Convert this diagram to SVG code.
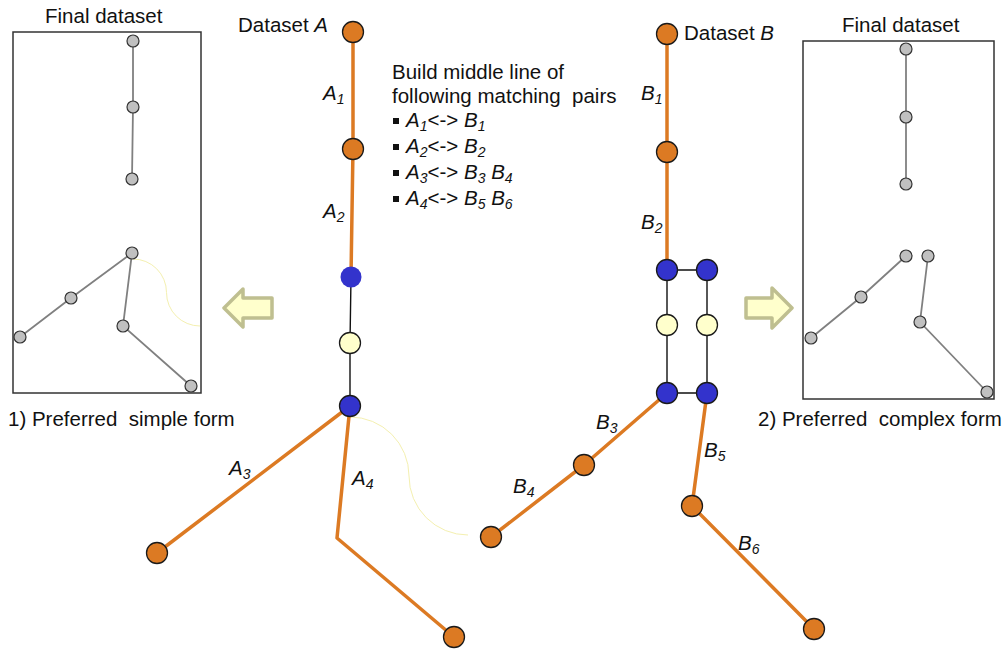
<svg xmlns="http://www.w3.org/2000/svg" width="1005" height="650" viewBox="0 0 1005 650">
<defs>
<style>
text{font-family:"Liberation Sans",Arial,sans-serif;font-size:20.5px;fill:#111;}
.it{font-style:italic;}
.sub{font-size:14px;font-style:italic;}
.or{stroke:#dc7a23;stroke-width:3.5;fill:none;stroke-linecap:round;stroke-linejoin:round;}
.bk{stroke:#111;stroke-width:1.4;fill:none;}
.gl{stroke:#808080;stroke-width:1.8;fill:none;}
.faint{stroke:#f4f0b0;stroke-width:1;fill:none;}
.on{fill:#dc7a23;stroke:#1a1a1a;stroke-width:1.3;}
.bn{fill:#3333cc;stroke:#1a1a1a;stroke-width:1.3;}
.yn{fill:#ffffcc;stroke:#1a1a1a;stroke-width:1.3;}
.gn{fill:#c0c0c0;stroke:#333;stroke-width:1.2;}
.box{fill:none;stroke:#333;stroke-width:1.5;}
.arrow{fill:#ffffcc;stroke:#bfbf90;stroke-width:3.5;stroke-linejoin:round;}
</style>
</defs>
<rect width="1005" height="650" fill="#fff"/>

<!-- Left final dataset panel -->
<g id="left-panel">
<text x="45" y="23">Final dataset</text>
<rect class="box" x="13" y="32" width="188" height="361"/>
<path class="faint" d="M133,259 A33.5,33.5 0 0 1 166.5,292.5 A33.5,33.5 0 0 0 200,326"/>
<polyline class="gl" points="133,41 133,107 132,179"/>
<polyline class="gl" points="20,337 71,298 132,253 123,326 191,386"/>
<circle class="gn" cx="133" cy="41" r="6"/>
<circle class="gn" cx="133" cy="107" r="6"/>
<circle class="gn" cx="132" cy="179" r="6"/>
<circle class="gn" cx="132" cy="253" r="6"/>
<circle class="gn" cx="71" cy="298" r="6"/>
<circle class="gn" cx="20" cy="337" r="6"/>
<circle class="gn" cx="123" cy="326" r="6"/>
<circle class="gn" cx="191" cy="386" r="6"/>
<text x="8" y="426" xml:space="preserve">1) Preferred  simple form</text>
</g>

<!-- Right final dataset panel -->
<g id="right-panel">
<text x="842" y="32">Final dataset</text>
<rect class="box" x="803" y="41" width="191" height="358"/>
<polyline class="gl" points="906,49 906,117 906,184"/>
<polyline class="gl" points="811,338 861,297 906,256"/>
<polyline class="gl" points="928,256 920,322 987,392"/>
<circle class="gn" cx="906" cy="49" r="6"/>
<circle class="gn" cx="906" cy="117" r="6"/>
<circle class="gn" cx="906" cy="184" r="6"/>
<circle class="gn" cx="906" cy="256" r="6"/>
<circle class="gn" cx="928" cy="256" r="6"/>
<circle class="gn" cx="861" cy="297" r="6"/>
<circle class="gn" cx="811" cy="338" r="6"/>
<circle class="gn" cx="920" cy="322" r="6"/>
<circle class="gn" cx="987" cy="392" r="6"/>
<text x="758" y="426" xml:space="preserve">2) Preferred  complex form</text>
</g>

<!-- Arrows -->
<g id="arrow-left"><polygon class="arrow" points="272,298 243,298 243,289 224,308 243,327 243,318 272,318"/></g>
<g id="arrow-right"><polygon class="arrow" points="746,298 772,298 772,288 792,308 772,328 772,318 746,318"/></g>

<!-- Connectors -->
<g id="connectors">
<path class="faint" d="M350,417 A59,59 0 0 1 409,476 A59,59 0 0 0 468,535"/>
<polyline class="or" points="353,32 353,148 351,277"/>
<polyline class="bk" points="351,277 350,343 350,406"/>
<line class="or" x1="350" y1="406" x2="157" y2="553"/>
<polyline class="or" points="350,406 337,538 454,637"/>
<polyline class="or" points="667,34 667,152 667,270"/>
<polyline class="bk" points="707,270 667,270 667,393 707,393 707,270"/>
<polyline class="or" points="667,393 584,465 491,537"/>
<polyline class="or" points="707,393 692,506 814,629"/>
</g>

<!-- Dataset A nodes -->
<g id="A-node-0"><circle class="on" cx="353" cy="32" r="10.5"/></g>
<g id="A-node-1"><circle class="on" cx="353" cy="149" r="10.5"/></g>
<g id="A-node-2"><circle class="bn" cx="351" cy="277" r="10.5" style="stroke:none"/></g>
<g id="A-node-3"><circle class="yn" cx="350" cy="343" r="10.5"/></g>
<g id="A-node-4"><circle class="bn" cx="350" cy="406" r="10.5"/></g>
<g id="A-node-5"><circle class="on" cx="157" cy="553" r="10.5"/></g>
<g id="A-node-6"><circle class="on" cx="454" cy="637" r="10.5"/></g>

<!-- Dataset B nodes -->
<g id="B-node-0"><circle class="on" cx="667" cy="34" r="10.5"/></g>
<g id="B-node-1"><circle class="on" cx="667" cy="152" r="10.5"/></g>
<g id="B-node-2"><circle class="bn" cx="667" cy="270" r="10.5"/></g>
<g id="B-node-3"><circle class="bn" cx="707" cy="270" r="10.5"/></g>
<g id="B-node-4"><circle class="yn" cx="667" cy="325" r="10.5"/></g>
<g id="B-node-5"><circle class="yn" cx="707" cy="325" r="10.5"/></g>
<g id="B-node-6"><circle class="bn" cx="667" cy="393" r="10.5"/></g>
<g id="B-node-7"><circle class="bn" cx="707" cy="393" r="10.5"/></g>
<g id="B-node-8"><circle class="on" cx="584" cy="465" r="10.5"/></g>
<g id="B-node-9"><circle class="on" cx="491" cy="537" r="10.5"/></g>
<g id="B-node-10"><circle class="on" cx="692" cy="506" r="10.5"/></g>
<g id="B-node-11"><circle class="on" cx="814" cy="629" r="10.5"/></g>

<!-- Labels -->
<g id="labels">
<text x="238" y="32">Dataset <tspan class="it">A</tspan></text>
<text x="684" y="40">Dataset <tspan class="it">B</tspan></text>
<text x="323" y="100" class="it">A<tspan class="sub" dy="4">1</tspan></text>
<text x="323" y="218" class="it">A<tspan class="sub" dy="4">2</tspan></text>
<text x="229" y="475" class="it">A<tspan class="sub" dy="4">3</tspan></text>
<text x="352" y="485" class="it">A<tspan class="sub" dy="4">4</tspan></text>
<text x="641" y="100" class="it">B<tspan class="sub" dy="4">1</tspan></text>
<text x="641" y="229" class="it">B<tspan class="sub" dy="4">2</tspan></text>
<text x="596" y="429" class="it">B<tspan class="sub" dy="4">3</tspan></text>
<text x="513" y="493" class="it">B<tspan class="sub" dy="4">4</tspan></text>
<text x="704" y="457" class="it">B<tspan class="sub" dy="4">5</tspan></text>
<text x="738" y="550" class="it">B<tspan class="sub" dy="4">6</tspan></text>
</g>

<!-- Description text -->
<g id="description">
<text x="392" y="79">Build middle line of</text>
<text x="392" y="103" xml:space="preserve">following matching  pairs</text>
<rect x="393" y="118" width="6" height="6" fill="#111"/>
<rect x="393" y="144" width="6" height="6" fill="#111"/>
<rect x="393" y="170" width="6" height="6" fill="#111"/>
<rect x="393" y="196" width="6" height="6" fill="#111"/>
<text x="406" y="127"><tspan class="it">A</tspan><tspan class="sub" dy="4">1</tspan><tspan dy="-4">&lt;-&gt; </tspan><tspan class="it">B</tspan><tspan class="sub" dy="4">1</tspan></text>
<text x="406" y="153"><tspan class="it">A</tspan><tspan class="sub" dy="4">2</tspan><tspan dy="-4">&lt;-&gt; </tspan><tspan class="it">B</tspan><tspan class="sub" dy="4">2</tspan></text>
<text x="406" y="179"><tspan class="it">A</tspan><tspan class="sub" dy="4">3</tspan><tspan dy="-4">&lt;-&gt; </tspan><tspan class="it">B</tspan><tspan class="sub" dy="4">3</tspan><tspan dy="-4"> </tspan><tspan class="it">B</tspan><tspan class="sub" dy="4">4</tspan></text>
<text x="406" y="205"><tspan class="it">A</tspan><tspan class="sub" dy="4">4</tspan><tspan dy="-4">&lt;-&gt; </tspan><tspan class="it">B</tspan><tspan class="sub" dy="4">5</tspan><tspan dy="-4"> </tspan><tspan class="it">B</tspan><tspan class="sub" dy="4">6</tspan></text>
</g>
</svg>
